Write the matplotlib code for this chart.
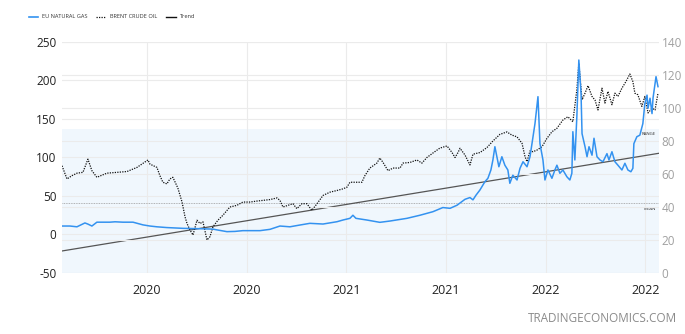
import matplotlib
matplotlib.use("Agg")
import matplotlib.pyplot as plt
from matplotlib.lines import Line2D

plt.rcParams['font.family'] = ['Open Sans', 'DejaVu Sans']
plt.rcParams['axes.unicode_minus'] = False

# ---- data (decimal years) ----
gas_t = [2019.574, 2019.614, 2019.649, 2019.689, 2019.704, 2019.724, 2019.749, 2019.814, 2019.840,
         2019.880, 2019.930, 2019.980, 2020.015, 2020.050, 2020.100, 2020.181, 2020.266, 2020.331,
         2020.351, 2020.401, 2020.441, 2020.481, 2020.567, 2020.617, 2020.667, 2020.717, 2020.767,
         2020.817, 2020.883, 2020.953, 2020.983, 2021.018, 2021.033, 2021.048, 2021.103, 2021.168,
         2021.219, 2021.304, 2021.369, 2021.434, 2021.484, 2021.520, 2021.555, 2021.595, 2021.620,
         2021.635, 2021.650, 2021.670, 2021.695, 2021.710, 2021.725, 2021.735, 2021.745, 2021.755,
         2021.765, 2021.780, 2021.795, 2021.810, 2021.820, 2021.835, 2021.856, 2021.871, 2021.886,
         2021.906, 2021.921, 2021.931, 2021.946, 2021.961, 2021.971, 2021.986, 2021.996, 2022.011,
         2022.031, 2022.046, 2022.056, 2022.071, 2022.086, 2022.106, 2022.121, 2022.131, 2022.136,
         2022.146, 2022.156, 2022.166, 2022.177, 2022.182, 2022.197, 2022.207, 2022.217, 2022.232,
         2022.242, 2022.257, 2022.272, 2022.287, 2022.307, 2022.317, 2022.332, 2022.347, 2022.362,
         2022.382, 2022.397, 2022.412, 2022.427, 2022.437, 2022.442, 2022.457, 2022.472, 2022.487,
         2022.497, 2022.508, 2022.513, 2022.523, 2022.533, 2022.538, 2022.553, 2022.563]
gas_v = [11, 11, 10, 15, 13.5, 11, 16, 16, 16.5,
         16, 16, 12.5, 11, 10, 9, 8, 7.5, 7,
         6, 3.7, 4, 5, 5, 6.7, 11, 10, 12.3,
         14.5, 13.6, 16.6, 18.8, 21, 25, 21, 18.8, 15.8,
         17.5, 21, 25, 29.6, 35, 34, 38, 45.7, 48,
         45, 51, 57.8, 68.6, 73, 83.8, 96.8, 114, 101,
         88, 101, 90, 83.8, 66.5, 77, 70.8, 86, 94.5,
         88, 101, 118, 144, 179, 118, 96.8, 70.8, 83.8,
         73, 83.8, 90, 79.5, 83.8, 75, 70.8, 79.5, 133.5,
         96.8, 153, 226.6, 183, 131, 114, 101, 114, 103,
         125, 101, 96.8, 94.5, 105, 96.8, 107.5, 94.5, 90,
         83.8, 92.5, 83.8, 81.5, 86, 118, 127, 129, 144,
         170, 181, 164, 177, 157, 177, 205, 192]

brent_t = [2019.574, 2019.599, 2019.624, 2019.649, 2019.679, 2019.704, 2019.724, 2019.749, 2019.799,
           2019.850, 2019.900, 2019.950, 2020.005, 2020.015, 2020.050, 2020.065, 2020.080, 2020.100,
           2020.115, 2020.130, 2020.155, 2020.176, 2020.191, 2020.201, 2020.216, 2020.231, 2020.251,
           2020.266, 2020.281, 2020.301, 2020.316, 2020.331, 2020.356, 2020.381, 2020.416, 2020.451,
           2020.481, 2020.517, 2020.552, 2020.582, 2020.617, 2020.652, 2020.667, 2020.682, 2020.707,
           2020.732, 2020.752, 2020.777, 2020.802, 2020.827, 2020.853, 2020.883, 2020.918, 2020.953,
           2020.983, 2021.003, 2021.018, 2021.053, 2021.078, 2021.093, 2021.118, 2021.153, 2021.168,
           2021.184, 2021.209, 2021.234, 2021.269, 2021.284, 2021.319, 2021.354, 2021.379, 2021.404,
           2021.434, 2021.469, 2021.505, 2021.530, 2021.545, 2021.560, 2021.570, 2021.595, 2021.620,
           2021.635, 2021.670, 2021.705, 2021.735, 2021.770, 2021.805, 2021.830, 2021.856, 2021.881,
           2021.896, 2021.906, 2021.921, 2021.936, 2021.956, 2021.981, 2022.006, 2022.031, 2022.056,
           2022.086, 2022.111, 2022.136, 2022.156, 2022.166, 2022.182, 2022.197, 2022.212, 2022.232,
           2022.247, 2022.262, 2022.282, 2022.297, 2022.312, 2022.332, 2022.347, 2022.362, 2022.382,
           2022.402, 2022.422, 2022.437, 2022.447, 2022.462, 2022.482, 2022.497, 2022.513, 2022.533,
           2022.548, 2022.563]
brent_v = [65, 57, 59, 60.5, 61, 69, 62, 58, 60.5,
           61, 61.5, 64, 68.5, 66, 64, 59, 55, 54,
           57, 58, 51.5, 43, 34, 30, 26, 23, 32,
           30, 31, 20, 22, 28, 32, 35, 40, 41,
           43, 43, 43.6, 44, 44.5, 45.5, 44, 40, 41,
           42, 39, 42, 42, 38, 42, 47, 49, 50,
           51, 52, 55, 55, 55, 59, 63.6, 66.6, 69.7,
           67, 62, 63.6, 63.6, 66.6, 67, 68.5, 66.6, 70,
           72.7, 75.7, 77, 73, 70, 73, 75.6, 71.5, 65.5,
           72, 73, 76, 80, 84, 85.5, 83.6, 82.5, 78.6,
           70.5, 67.5, 74, 73.5, 74.5, 76.5, 81.6, 85.6, 87.7,
           92.7, 94.7, 91.7, 111, 127, 105, 109, 113.5, 107,
           104.8, 98.8, 112, 103, 110, 102, 109, 107, 112,
           116, 120.6, 116, 109, 108, 101, 107, 97, 99.8,
           98.8, 109]

trend_t = [2019.574, 2022.568]
trend_v = [-21.4, 105.5]
mean_value = 40.5
range_top = 137

x_ticks = [2020.0, 2020.5, 2021.0, 2021.5, 2022.0, 2022.5]
x_labels = ['2020', '2020', '2021', '2021', '2022', '2022']
left_ticks = [-50, 0, 50, 100, 150, 200, 250]
right_ticks = [0, 20, 40, 60, 80, 100, 120, 140]

GAS = '#3392f0'
GRID = '#ebebeb'

fig = plt.figure(figsize=(6.85, 3.34), dpi=100)
ax = fig.add_axes([62/685, 1-273/334, (659-62)/685, (273-42)/334])
ax2 = ax.twinx()

ax.set_xlim(2019.574, 2022.568)
ax.set_ylim(-50, 250)
ax2.set_ylim(0, 140)

ax.axhspan(-50, range_top, color='#f0f7fd', zorder=0, lw=0)
ax.set_yticks(left_ticks)
ax2.set_yticks(right_ticks)
ax.set_xticks(x_ticks)
ax.set_xticklabels(x_labels)

ax.grid(True, color=GRID, lw=0.8, zorder=0.5)
ax2.grid(True, axis='y', color=GRID, lw=0.8, zorder=0.5)
ax.set_axisbelow(True)
ax2.set_axisbelow(True)

ax.axhline(mean_value, color='#9a9a9a', lw=0.6, ls=(0, (1, 1)), zorder=1)
ax.plot(trend_t, trend_v, color='#555555', lw=0.9, zorder=2)

ax2.plot(brent_t, brent_v, color='#111111', lw=0.9, ls=(0, (1, 1)), zorder=2)
ax2.plot(gas_t, gas_v, color=GAS, lw=1.1, zorder=3, transform=ax.transData)
ax2.set_ylim(0, 140)

for a in (ax, ax2):
    for s in a.spines.values():
        s.set_visible(False)

ax.tick_params(axis='y', length=0, pad=4, labelsize=8.5, labelcolor='#222222')
ax.tick_params(axis='x', length=0, pad=8, labelsize=9, labelcolor='#222222')
ax2.tick_params(axis='y', length=0, pad=2, labelsize=8.5, labelcolor='#a0a0a0')

ax.text(0.995, (range_top + 50) / 300 - 0.015, 'RANGE', transform=ax.transAxes,
        fontsize=3.2, ha='right', va='top', color='#333333')
ax.text(0.995, (mean_value + 50) / 300 - 0.015, 'MEAN', transform=ax.transAxes,
        fontsize=3.2, ha='right', va='top', color='#333333')

# legend
ly = 1 - 17/334
items = [((29, 38), dict(color=GAS, lw=1.2, ls='-'), 42, 'EU NATURAL GAS'),
         ((96, 106), dict(color='#111111', lw=0.9, ls=(0, (1, 1))), 110, 'BRENT CRUDE OIL'),
         ((166, 176), dict(color='#111111', lw=1.0, ls='-'), 179, 'Trend')]
for (x0, x1), st, tx, lab in items:
    fig.add_artist(Line2D([x0/685, x1/685], [ly, ly], transform=fig.transFigure, **st))
    fig.text(tx/685, ly, lab, fontsize=4.1, va='center', ha='left', color='#333333')

fig.text(677/685, 1 - 318/334, 'TRADINGECONOMICS.COM', fontsize=8.5, color='#8a8a8a',
         ha='right', va='center')

fig.savefig('out.png', dpi=100)
